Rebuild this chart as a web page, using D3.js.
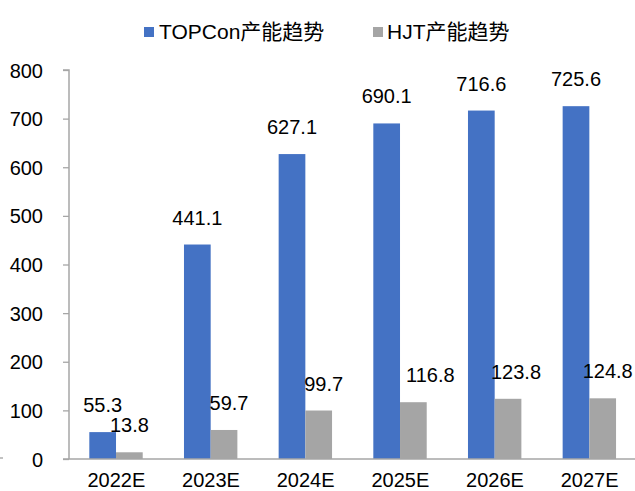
<!DOCTYPE html>
<html><head><meta charset="utf-8">
<script src="https://cdn.jsdelivr.net/npm/d3@7"></script>
<style>
html,body{margin:0;padding:0;background:#fff;}
svg{display:block;font-family:"Liberation Sans",Arial,"Noto Sans CJK SC",sans-serif;}
</style></head>
<body>
<svg id="chart" width="635" height="491"></svg>
<script>
const categories = ["2022E","2023E","2024E","2025E","2026E","2027E"];
const seriesNames = ["TOPCon产能趋势","HJT产能趋势"];
const topconValues = [55.3,441.1,627.1,690.1,716.6,725.6];
const hjtValues = [13.8,59.7,99.7,116.8,123.8,124.8];
const yTicks = [0,100,200,300,400,500,600,700,800];
const colors = ["#4472C4","#A5A5A5"];
// manual label nudges (layout only)
const labelDx = [[0,0,0,0,0,0],[0,5,5,17,8,5]];

(function(){
const svg = d3.select("#chart");
const fontCJK = '"Liberation Sans",Arial,"Noto Sans CJK SC",sans-serif';
const mLeft = 69, mRight = 637, mTop = 70, mBottom = 459;
const axisColor = "#A6A6A6";

const x0 = d3.scaleBand().domain(categories).range([mLeft, mRight]).padding(0);
const bw = x0.bandwidth();
const x1 = d3.scaleBand().domain(seriesNames).range([bw*0.2146, bw*0.2146 + 53.4*(bw/94.67)]).padding(0);
const y = d3.scaleLinear().domain([0,800]).range([mBottom, mTop]);

const values = [topconValues, hjtValues];

seriesNames.forEach((s, si) => {
  svg.append("g").selectAll("rect").data(values[si]).join("rect")
    .attr("x", (d,i) => x0(categories[i]) + x1(s))
    .attr("y", d => y(d))
    .attr("width", x1.bandwidth())
    .attr("height", d => y(0) - y(d))
    .attr("fill", colors[si]);
});

const yAxis = d3.axisLeft(y).tickValues(yTicks).tickSize(6).tickPadding(20).tickFormat(d3.format("d"));
const gy = svg.append("g").attr("transform", `translate(${mLeft},0)`).call(yAxis);
gy.select(".domain").attr("stroke", axisColor).attr("stroke-width", 1.5).attr("d", `M-6,${mTop}H0V${mBottom}`);
gy.selectAll(".tick line").attr("stroke", axisColor).attr("stroke-width", 1.3);
gy.selectAll(".tick text").attr("fill", "#000").style("font-size", "20px").style("font-family", fontCJK).attr("dy", "0.35em");

const xAxis = d3.axisBottom(x0).tickSize(0).tickPadding(0);
const gx = svg.append("g").attr("transform", `translate(0,${mBottom})`).call(xAxis);
gx.select(".domain").attr("stroke", axisColor).attr("stroke-width", 1.5).attr("d", `M${mLeft-6},0H${mRight}`);
gx.selectAll(".tick text").attr("fill", "#000").style("font-size", "20px").style("font-family", fontCJK)
  .attr("y", 28).attr("dy", 0);

svg.append("line").attr("x1", 0).attr("x2", 3).attr("y1", 458).attr("y2", 458).attr("stroke", "#999").attr("stroke-width", 1.2);

seriesNames.forEach((s, si) => {
  svg.append("g").selectAll("text").data(values[si]).join("text")
    .attr("x", (d,i) => x0(categories[i]) + x1(s) + x1.bandwidth()/2 + labelDx[si][i])
    .attr("y", d => y(d) - 20)
    .attr("text-anchor", "middle")
    .style("font-size", "20px")
    .style("font-family", fontCJK)
    .attr("fill", "#000")
    .text(d => d3.format(".1f")(d));
});

const legendPos = [{sx:144, tx:159},{sx:373, tx:387}];
seriesNames.forEach((s, si) => {
  svg.append("rect").attr("x", legendPos[si].sx).attr("y", 27).attr("width", 10).attr("height", 10).attr("fill", colors[si]);
  svg.append("text").attr("x", legendPos[si].tx).attr("y", 39)
    .style("font-size", "21px").style("font-family", fontCJK).attr("fill", "#000").text(s);
});
})();
</script>
</body></html>
